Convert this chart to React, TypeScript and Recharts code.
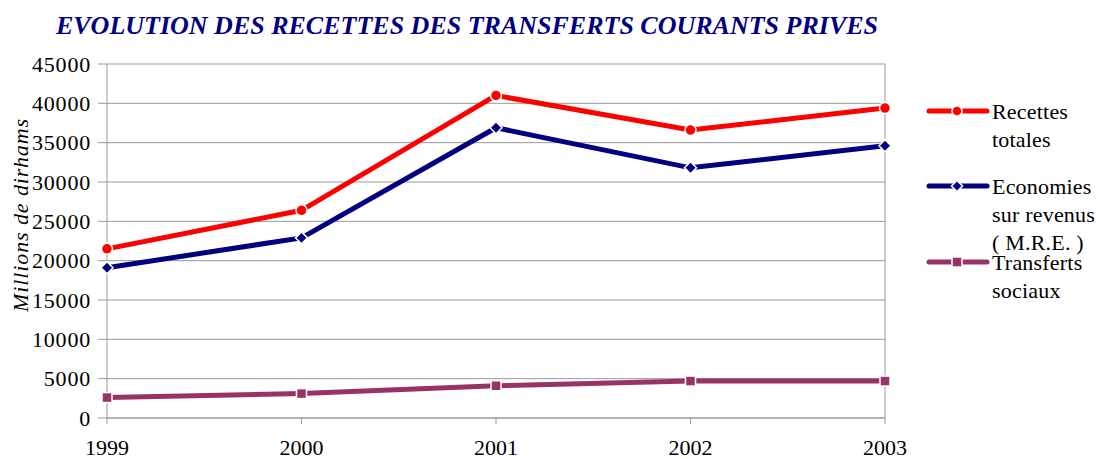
import React from 'react';
import { LineChart, Line, XAxis, YAxis, CartesianGrid, ReferenceLine, Label } from 'recharts';

const years = ['1999', '2000', '2001', '2002', '2003'];
const recettesTotales = [21500, 26400, 41000, 36600, 39400];
const economiesMRE = [19100, 22900, 36900, 31800, 34600];
const transfertsSociaux = [2600, 3100, 4100, 4700, 4700];
const yTicks = [0, 5000, 10000, 15000, 20000, 25000, 30000, 35000, 40000, 45000];

const seriesNames = ['Recettes totales', 'Economies sur revenus ( M.R.E. )', 'Transferts sociaux'];
const legendLines = [['Recettes', 'totales'], ['Economies', 'sur revenus', '( M.R.E. )'], ['Transferts', 'sociaux']];
const colors = ['#FF0000', '#000080', '#993366'];

const data = years.map((y, i) => ({
  year: y,
  recettes: recettesTotales[i],
  economies: economiesMRE[i],
  transferts: transfertsSociaux[i],
}));

const FONT = '"Liberation Serif", "Times New Roman", serif';

const CircleDot = (props: any) => {
  const { cx, cy } = props;
  if (cx == null || cy == null) return null;
  return <circle cx={cx} cy={cy} r={5.5} fill="#FF0000" stroke="#fff" strokeWidth={1.5} />;
};
const DiamondDot = (props: any) => {
  const { cx, cy } = props;
  if (cx == null || cy == null) return null;
  const s = 6;
  return (
    <polygon
      points={`${cx},${cy - s} ${cx + s},${cy} ${cx},${cy + s} ${cx - s},${cy}`}
      fill="#000080"
      stroke="#fff"
      strokeWidth={1.5}
    />
  );
};
const SquareDot = (props: any) => {
  const { cx, cy } = props;
  if (cx == null || cy == null) return null;
  const s = 5;
  return <rect x={cx - s} y={cy - s} width={2 * s} height={2 * s} fill="#993366" stroke="#fff" strokeWidth={1.5} />;
};

const LegendMarker = ({ i }: { i: number }) => {
  const c = colors[i];
  return (
    <svg width={64} height={12} style={{ display: 'block' }}>
      <line x1={3} y1={6} x2={61} y2={6} stroke={c} strokeWidth={5} strokeLinecap="round" />
      {i === 0 && <circle cx={31} cy={6} r={5} fill={c} stroke="#fff" strokeWidth={1.5} />}
      {i === 1 && <polygon points="31,0.5 36.5,6 31,11.5 25.5,6" fill={c} stroke="#fff" strokeWidth={1.5} />}
      {i === 2 && <rect x={26} y={1} width={10} height={10} fill={c} stroke="#fff" strokeWidth={1.5} />}
    </svg>
  );
};

const yTickStyle = { fill: '#000', fontSize: 22, fontFamily: FONT, letterSpacing: 0.8 };
const xTickStyle = { fill: '#000', fontSize: 22, fontFamily: FONT };

export default function App() {
  const legendTops = [98, 173, 249];
  return (
    <div style={{ position: 'fixed', left: 0, top: 0, width: 1096, height: 459, background: '#fff', fontFamily: FONT }}>
      <div
        style={{
          position: 'absolute',
          left: 0,
          top: 11,
          width: 934,
          textAlign: 'center',
          fontFamily: FONT,
          fontWeight: 'bold',
          fontStyle: 'italic',
          fontSize: 26,
          lineHeight: '30px',
          color: '#000080',
          whiteSpace: 'nowrap',
        }}
      >
        EVOLUTION DES RECETTES DES TRANSFERTS COURANTS PRIVES
      </div>
      <LineChart width={1096} height={459} data={data} margin={{ top: 64, right: 211, bottom: 11, left: 0 }}>
        <CartesianGrid vertical={false} stroke="#999999" strokeWidth={1} />
        <XAxis
          dataKey="year"
          height={30}
          stroke="#999999"
          tickLine={{ stroke: '#999999' }}
          tickSize={6}
          tick={xTickStyle}
          tickMargin={15}
          interval={0}
        />
        <YAxis
          width={107}
          domain={[0, 45000]}
          ticks={yTicks}
          stroke="#999999"
          tickLine={{ stroke: '#999999' }}
          tickSize={9}
          tickMargin={7}
          tick={yTickStyle}
          interval={0}
        >
          <Label
            content={() => {
              const x = 28;
              const y = 215;
              return (
                <text
                  x={x}
                  y={y}
                  transform={`rotate(-90 ${x} ${y})`}
                  textAnchor="middle"
                  fontFamily={FONT}
                  fontStyle="italic"
                  fontSize={22}
                  letterSpacing={0.9}
                  fill="#000"
                >
                  Millions de dirhams
                </text>
              );
            }}
          />
        </YAxis>
        <ReferenceLine x="2003" stroke="#999999" strokeWidth={1} />
        <Line
          type="linear"
          dataKey="transferts"
          name={seriesNames[2]}
          stroke={colors[2]}
          strokeWidth={5}
          dot={<SquareDot />}
          activeDot={false}
          isAnimationActive={false}
        />
        <Line
          type="linear"
          dataKey="economies"
          name={seriesNames[1]}
          stroke={colors[1]}
          strokeWidth={5}
          dot={<DiamondDot />}
          activeDot={false}
          isAnimationActive={false}
        />
        <Line
          type="linear"
          dataKey="recettes"
          name={seriesNames[0]}
          stroke={colors[0]}
          strokeWidth={5}
          dot={<CircleDot />}
          activeDot={false}
          isAnimationActive={false}
        />
      </LineChart>
      {legendLines.map((lines, i) => (
        <div key={i} style={{ position: 'absolute', left: 926, top: legendTops[i], display: 'flex', alignItems: 'flex-start' }}>
          <div style={{ marginTop: 7 }}>
            <LegendMarker i={i} />
          </div>
          <div style={{ marginLeft: 2, fontFamily: FONT, fontSize: 22, lineHeight: '28px', color: '#000', letterSpacing: 0.2, whiteSpace: 'nowrap' }}>
            {lines.map((l, j) => (
              <div key={j}>{l}</div>
            ))}
          </div>
        </div>
      ))}
    </div>
  );
}
